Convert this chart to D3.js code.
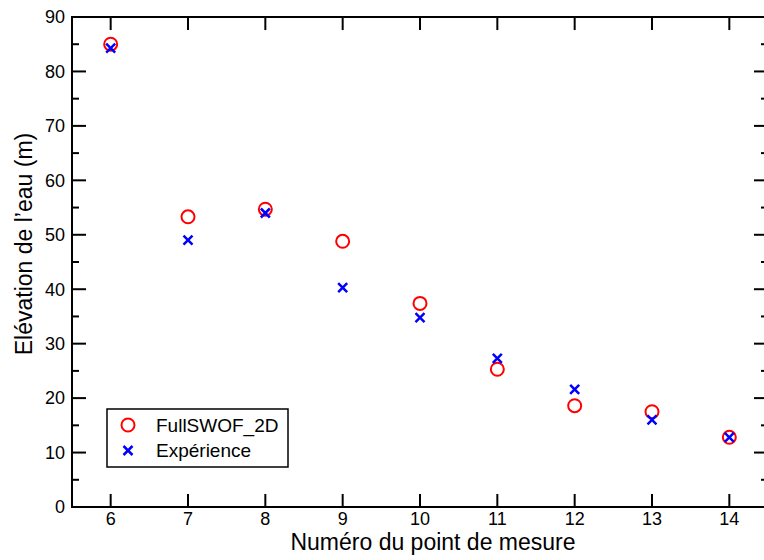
<!DOCTYPE html>
<html>
<head>
<meta charset="utf-8">
<script src="https://cdn.jsdelivr.net/npm/d3@7"></script>
<style>
html,body{margin:0;padding:0;background:#fff;}
svg{display:block;font-family:"Liberation Sans",Arial,Helvetica,sans-serif;}
</style>
</head>
<body>
<svg id="chart" width="764" height="560"></svg>
<script>
const points = [6, 7, 8, 9, 10, 11, 12, 13, 14];
const fullswof = [85.0, 53.3, 54.7, 48.8, 37.4, 25.3, 18.6, 17.5, 12.8];
const experience = [84.3, 49.0, 54.0, 40.3, 34.8, 27.3, 21.6, 16.0, 12.8];
const xTicks = [6, 7, 8, 9, 10, 11, 12, 13, 14];
const yTicks = [0, 10, 20, 30, 40, 50, 60, 70, 80, 90];
const yMinorTicks = [5, 15, 25, 35, 45, 55, 65, 75, 85];
const seriesNames = ["FullSWOF_2D", "Expérience"];
const xTitle = "Numéro du point de mesure";
const yTitle = "Elévation de l’eau (m)";

const svg = d3.select("#chart");
const L = 72, R = 768, T = 17, B = 507;
const x = d3.scaleLinear().domain([5.5, 14.5]).range([L, R]);
const y = d3.scaleLinear().domain([0, 90]).range([B, T]);
const RED = "#ff0000", BLUE = "#0000ff";

// frame
svg.append("rect").attr("x", L).attr("y", T).attr("width", R - L).attr("height", B - T)
  .attr("fill", "none").attr("stroke", "#000").attr("stroke-width", 2);

const g = svg.append("g").attr("stroke", "#000").attr("stroke-width", 2);
// x ticks bottom & top
xTicks.forEach(v => {
  g.append("line").attr("x1", x(v)).attr("x2", x(v)).attr("y1", B).attr("y2", B - 13);
  g.append("line").attr("x1", x(v)).attr("x2", x(v)).attr("y1", T).attr("y2", T + 13);
});
// y ticks left & right
yTicks.forEach(v => {
  g.append("line").attr("x1", L).attr("x2", L + 14).attr("y1", y(v)).attr("y2", y(v));
  g.append("line").attr("x1", R).attr("x2", R - 14).attr("y1", y(v)).attr("y2", y(v));
});
yMinorTicks.forEach(v => {
  g.append("line").attr("x1", L).attr("x2", L + 7).attr("y1", y(v)).attr("y2", y(v));
  g.append("line").attr("x1", R).attr("x2", R - 7).attr("y1", y(v)).attr("y2", y(v));
});

// tick labels
svg.append("g").selectAll("text").data(xTicks).join("text")
  .attr("x", d => x(d)).attr("y", 525).attr("text-anchor", "middle")
  .attr("font-size", 18).attr("fill", "#000").text(d => d);
svg.append("g").selectAll("text").data(yTicks).join("text")
  .attr("x", 65).attr("y", d => y(d)).attr("dy", "0.35em").attr("text-anchor", "end")
  .attr("font-size", 18).attr("fill", "#000").text(d => d);

// titles
svg.append("text").attr("x", 433).attr("y", 550).attr("text-anchor", "middle")
  .attr("font-size", 23).attr("fill", "#000").text(xTitle);
svg.append("text").attr("transform", "translate(32,244) rotate(-90)").attr("text-anchor", "middle")
  .attr("font-size", 23).attr("fill", "#000").text(yTitle);

// markers
function circleMark(sel) {
  sel.attr("r", 6.5).attr("fill", "none").attr("stroke", RED).attr("stroke-width", 2);
}
function crossPath(cx, cy, s) {
  return `M${cx - s},${cy - s}L${cx + s},${cy + s}M${cx - s},${cy + s}L${cx + s},${cy - s}`;
}
svg.append("g").selectAll("circle").data(points).join("circle")
  .attr("cx", (d) => x(d)).attr("cy", (d, i) => y(fullswof[i])).call(circleMark);
svg.append("g").selectAll("path").data(points).join("path")
  .attr("d", (d, i) => crossPath(x(d), y(experience[i]), 4.5))
  .attr("stroke", BLUE).attr("stroke-width", 2.5).attr("fill", "none");

// legend
const lg = svg.append("g");
lg.append("rect").attr("x", 107).attr("y", 409).attr("width", 181).attr("height", 58)
  .attr("fill", "#fff").attr("stroke", "#000").attr("stroke-width", 1.5);
lg.append("circle").attr("cx", 128).attr("cy", 425).call(circleMark);
lg.append("path").attr("d", crossPath(128, 450.5, 4.5)).attr("stroke", BLUE).attr("stroke-width", 2.5);
lg.selectAll("text.lab").data(seriesNames).join("text").attr("class", "lab")
  .attr("x", 156).attr("y", (d, i) => 425 + i * 25.5).attr("dy", "0.35em")
  .attr("font-size", 19).attr("fill", "#000").text(d => d);
</script>
</body>
</html>
